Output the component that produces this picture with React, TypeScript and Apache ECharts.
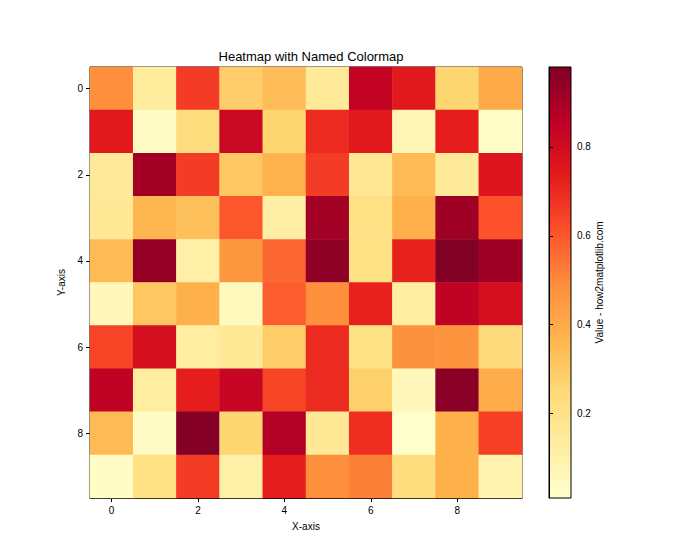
import React, { useEffect, useRef } from "react";
import * as echarts from "echarts";

const xCategories = ["0", "1", "2", "3", "4", "5", "6", "7", "8", "9"];
const yCategories = ["0", "1", "2", "3", "4", "5", "6", "7", "8", "9"];

const row0 = [0.49, 0.14, 0.66, 0.29, 0.34, 0.15, 0.84, 0.74, 0.26, 0.40];
const row1 = [0.74, 0.03, 0.23, 0.82, 0.26, 0.70, 0.74, 0.07, 0.73, 0.02];
const row2 = [0.15, 0.91, 0.66, 0.31, 0.37, 0.66, 0.17, 0.35, 0.15, 0.76];
const row3 = [0.16, 0.36, 0.33, 0.60, 0.12, 0.91, 0.21, 0.38, 0.92, 0.61];
const row4 = [0.35, 0.94, 0.11, 0.46, 0.57, 0.95, 0.21, 0.72, 0.98, 0.92];
const row5 = [0.06, 0.31, 0.38, 0.05, 0.59, 0.49, 0.72, 0.13, 0.85, 0.79];
const row6 = [0.64, 0.79, 0.13, 0.16, 0.29, 0.70, 0.21, 0.48, 0.47, 0.24];
const row7 = [0.85, 0.13, 0.73, 0.83, 0.64, 0.70, 0.28, 0.06, 0.96, 0.39];
const row8 = [0.35, 0.03, 0.97, 0.26, 0.88, 0.16, 0.69, 0.01, 0.38, 0.65];
const row9 = [0.03, 0.21, 0.66, 0.11, 0.73, 0.49, 0.52, 0.23, 0.38, 0.09];

const rows = [row0, row1, row2, row3, row4, row5, row6, row7, row8, row9];

const colorbarTicks = [0.2, 0.4, 0.6, 0.8];

const ylOrRd = [
  "#ffffcc",
  "#ffeda0",
  "#fed976",
  "#feb24c",
  "#fd8d3c",
  "#fc4e2a",
  "#e31a1c",
  "#bd0026",
  "#800026",
];

const FONT = "Liberation Sans, Arial, sans-serif";

export default function App() {
  const ref = useRef<HTMLDivElement>(null);

  useEffect(() => {
    if (!ref.current) return;
    const chart = echarts.init(ref.current, undefined, { renderer: "svg" });

    const data: [number, number, number][] = [];
    rows.forEach((r, yi) => r.forEach((v, xi) => data.push([xi, yi, v])));
    const all = rows.flat();
    const vmin = Math.min(...all);
    const vmax = Math.max(...all);

    const gradient = new echarts.graphic.LinearGradient(
      0,
      1,
      0,
      0,
      ylOrRd.map((c, i) => ({ offset: i / (ylOrRd.length - 1), color: c }))
    );

    const axisText = { color: "#000", fontFamily: FONT, fontSize: 10 };

    chart.setOption({
      animation: false,
      backgroundColor: "#fff",
      title: {
        text: "Heatmap with Named Colormap",
        left: 306,
        top: 45,
        textAlign: "center",
        textStyle: { color: "#000", fontFamily: FONT, fontSize: 13, fontWeight: "normal" },
      },
      grid: [
        {
          left: 90,
          top: 67,
          width: 432,
          height: 431,
          show: true,
          borderColor: "#000",
          borderWidth: 1,
          backgroundColor: "transparent",
        },
        {
          left: 549,
          top: 67,
          width: 22,
          height: 431,
          show: true,
          borderColor: "#000",
          borderWidth: 1,
          backgroundColor: gradient,
        },
      ],
      xAxis: [
        {
          type: "category",
          gridIndex: 0,
          data: xCategories,
          position: "bottom",
          axisLine: { show: true, lineStyle: { color: "#000", width: 1 } },
          axisTick: { show: true, alignWithLabel: true, interval: 1, length: 4, lineStyle: { color: "#000" } },
          axisLabel: { ...axisText, interval: 1, margin: 7 },
          splitLine: { show: false },
          name: "X-axis",
          nameLocation: "middle",
          nameGap: 23,
          nameTextStyle: axisText,
        },
        {
          type: "value",
          gridIndex: 1,
          show: false,
          min: 0,
          max: 1,
        },
      ],
      yAxis: [
        {
          type: "category",
          gridIndex: 0,
          data: yCategories,
          inverse: true,
          axisLine: { show: true, lineStyle: { color: "#000", width: 1 } },
          axisTick: { show: true, alignWithLabel: true, interval: 1, length: 4, lineStyle: { color: "#000" } },
          axisLabel: { ...axisText, interval: 1, margin: 7 },
          splitLine: { show: false },
          name: "Y-axis",
          nameLocation: "middle",
          nameGap: 19,
          nameRotate: 90,
          nameTextStyle: axisText,
        },
        {
          type: "value",
          gridIndex: 1,
          position: "right",
          min: vmin,
          max: vmax,
          axisLine: { show: true, lineStyle: { color: "#000", width: 1 } },
          axisTick: { show: true, length: 4, customValues: colorbarTicks, lineStyle: { color: "#000" } },
          axisLabel: {
            ...axisText,
            margin: 6,
            customValues: colorbarTicks,
            formatter: (v: number) => v.toFixed(1),
          },
          splitLine: { show: false },
          name: "Value - how2matplotlib.com",
          nameLocation: "middle",
          nameGap: 21,
          nameRotate: 90,
          nameTextStyle: axisText,
        },
      ],
      visualMap: {
        type: "continuous",
        show: false,
        min: vmin,
        max: vmax,
        dimension: 2,
        seriesIndex: 0,
        inRange: { color: ylOrRd },
      },
      series: [
        {
          type: "heatmap",
          xAxisIndex: 0,
          yAxisIndex: 0,
          data,
          itemStyle: { borderWidth: 0 },
          emphasis: { disabled: true },
        },
      ],
    });

    return () => chart.dispose();
  }, []);

  return (
    <div
      ref={ref}
      style={{ position: "fixed", left: 0, top: 0, width: 700, height: 560 }}
    />
  );
}
